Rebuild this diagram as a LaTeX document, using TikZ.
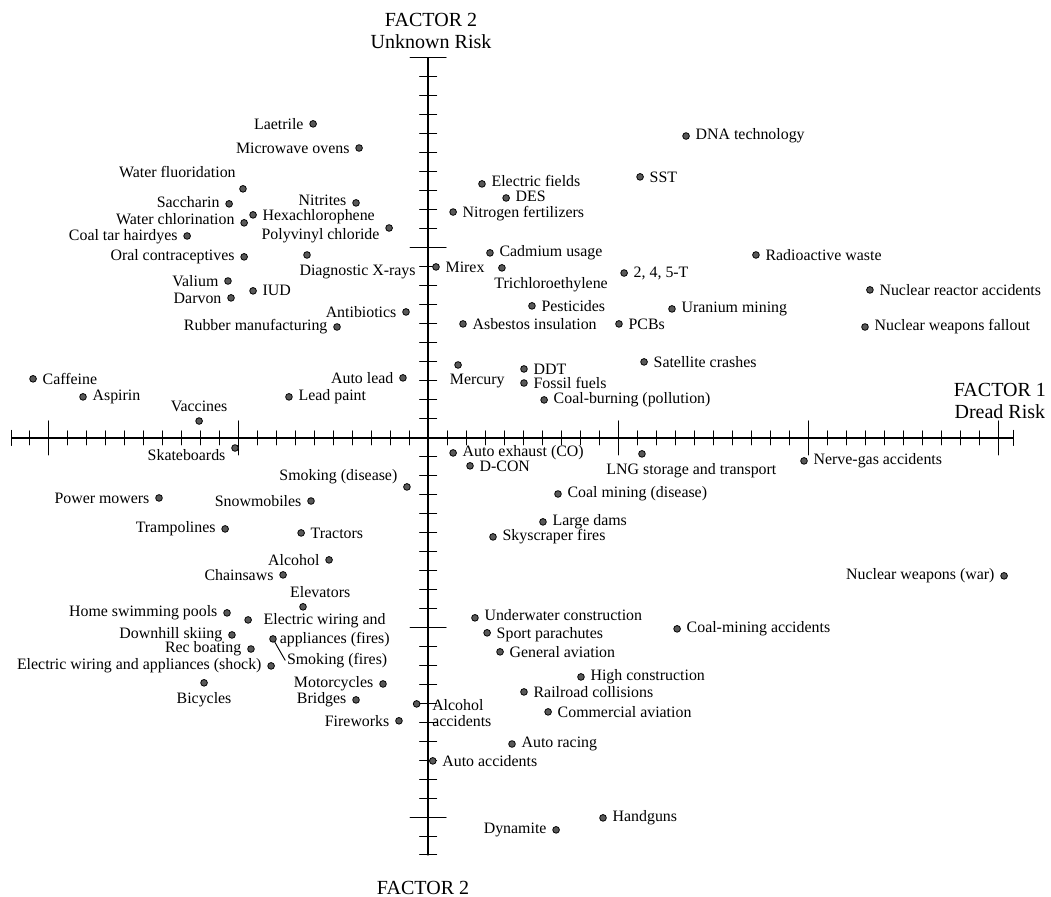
\documentclass[tikz,border=0pt]{standalone}
\usepackage{fontspec}
\setmainfont{Liberation Serif}
\usepackage{tikz}
\newcommand\hzfont{\fontsize{11.9}{14.2}\selectfont}
\newcommand\axfont{\fontsize{15}{16.5}\selectfont}

\begin{document}
\begin{tikzpicture}[line cap=round,line join=round,x=0.5cm,y=0.5cm,
    dot/.style={circle,draw=black,fill=black!65,inner sep=0pt,minimum size=5pt,line width=0.6pt},
    every label/.style={font=\hzfont,inner sep=1.2pt},
    label distance=3pt]
        \useasboundingbox (-22.53,-24.16) rectangle (32.79,23.05);
        % horizontal axis (factor 1)
        \draw[line width=1.1pt] (-21.9,0) -- (30.8,0);
        \foreach \x in {-21,...,30}
        \draw[shift={(\x,0)},line width=0.7pt] (0,0.37) -- (0,-0.37);
        \foreach \x in {-20,-10,10,20,30}
        \draw[shift={(\x,0)},line width=0.7pt] (0,0.9) -- (0,-0.9);
        \draw[line width=0.7pt] (-21.9,0.4) -- (-21.9,-0.4);
        \draw[line width=0.7pt] (30.8,0.4) -- (30.8,-0.4);
        % vertical axis (factor 2)
        \draw[line width=1.1pt] (0,-21.95) -- (0,20);
        \foreach \y in {-21,...,19}
        \draw[shift={(0,\y)},line width=0.7pt] (0.45,0) -- (-0.45,0);
        \foreach \y in {-20,-10,10,20}
        \draw[shift={(0,\y)},line width=0.7pt] (0.95,0) -- (-0.95,0);
        \draw[line width=0.7pt] (0.45,-21.95) -- (-0.45,-21.95);
        % axis titles
        \node[font=\axfont,align=center] (f2top) at (0.16,21.42) {FACTOR 2\\Unknown Risk};
        \node[font=\axfont,align=center] (f1) at (30.1,1.95) {FACTOR 1\\Dread Risk};
        \node[font=\axfont] (f2bot) at (-0.26,-23.68) {FACTOR 2};
        % upper left
        \node[dot,label=left:Laetrile] (laetrile) at (-6.05,16.53) {};
        \node[dot,label=left:Microwave ovens] (microwave) at (-3.63,15.26) {};
        \node[dot,label={[yshift=3pt]above left:Water fluoridation}] (fluor) at (-9.74,13.11) {};
        \node[dot,label={[yshift=1.5pt]left:Saccharin}] (saccharin) at (-10.47,12.32) {};
        \node[dot,label={[yshift=3pt]left:Water chlorination}] (chlorin) at (-9.68,11.32) {};
        \node[dot,label={[yshift=-1pt]right:Hexachlorophene}] (hexa) at (-9.21,11.74) {};
        \node[dot,label={[yshift=2pt]left:Nitrites}] (nitrites) at (-3.79,12.37) {};
        \node[dot,label={[yshift=-6pt]left:Polyvinyl chloride}] (pvc) at (-2.05,11.05) {};
        \node[dot,label={[yshift=-0.5pt]left:Coal tar hairdyes}] (coaltar) at (-12.68,10.63) {};
        \node[dot,label=left:Oral contraceptives] (oralc) at (-9.68,9.53) {};
        \node[dot,label={[anchor=north west,xshift=-7pt]below:Diagnostic X-rays}] (xrays) at (-6.37,9.63) {};
        \node[dot,label=left:Valium] (valium) at (-10.53,8.26) {};
        \node[dot,label=right:IUD] (iud) at (-9.21,7.74) {};
        \node[dot,label=left:Darvon] (darvon) at (-10.37,7.37) {};
        \node[dot,label=left:Antibiotics] (antibio) at (-1.16,6.63) {};
        \node[dot,label=left:Rubber manufacturing] (rubber) at (-4.79,5.84) {};
        % upper right
        \node[dot,label=right:DNA technology] (dna) at (13.58,15.89) {};
        \node[dot,label=right:SST] (sst) at (11.16,13.74) {};
        \node[dot,label={[yshift=2pt]right:Electric fields}] (efields) at (2.84,13.37) {};
        \node[dot,label={[yshift=1pt]right:DES}] (des) at (4.11,12.63) {};
        \node[dot,label={[yshift=-1.5pt]right:Nitrogen fertilizers}] (nitrogen) at (1.32,11.89) {};
        \node[dot,label=right:Cadmium usage] (cadmium) at (3.26,9.74) {};
        \node[dot,label=right:Radioactive waste] (radwaste) at (17.26,9.63) {};
        \node[dot,label=right:Mirex] (mirex) at (0.42,9.0) {};
        \node[dot,label={[anchor=north west,xshift=-7pt]below:Trichloroethylene}] (trichlor) at (3.89,8.95) {};
        \node[dot,label={right:2, 4, 5-T}] (twofourfive) at (10.32,8.68) {};
        \node[dot,label=right:Nuclear reactor accidents] (nra) at (23.26,7.79) {};
        \node[dot,label=right:Pesticides] (pesticides) at (5.47,6.95) {};
        \node[dot,label=right:Uranium mining] (uranium) at (12.84,6.79) {};
        \node[dot,label=right:Asbestos insulation] (asbestos) at (1.84,6.0) {};
        \node[dot,label=right:PCBs] (pcbs) at (10.05,6.0) {};
        \node[dot,label=right:Nuclear weapons fallout] (nwf) at (23.0,5.84) {};
        % near factor 1 axis
        \node[dot,label=right:Caffeine] (caffeine) at (-20.79,3.11) {};
        \node[dot,label=right:Aspirin] (aspirin) at (-18.16,2.16) {};
        \node[dot,label=above:Vaccines] (vaccines) at (-12.05,0.89) {};
        \node[dot,label=left:Auto lead] (autolead) at (-1.32,3.16) {};
        \node[dot,label=right:Lead paint] (leadpaint) at (-7.32,2.16) {};
        \node[dot,label={[anchor=north west,xshift=-7.5pt]below:Mercury}] (mercury) at (1.58,3.84) {};
        \node[dot,label=right:DDT] (ddt) at (5.05,3.63) {};
        \node[dot,label=right:Fossil fuels] (fossil) at (5.05,2.89) {};
        \node[dot,label=right:Satellite crashes] (satellite) at (11.37,4.0) {};
        \node[dot,label=right:Coal-burning (pollution)] (coalburn) at (6.11,2.0) {};
        \node[dot,label=right:Auto exhaust (CO)] (autoexh) at (1.32,-0.79) {};
        \node[dot,label=right:D-CON] (dcon) at (2.21,-1.47) {};
        \node[dot,label={[anchor=north west,xshift=-28pt]below:LNG storage and transport}] (lng) at (11.26,-0.84) {};
        \node[dot,label=right:Nerve-gas accidents] (nervegas) at (19.79,-1.21) {};
        \node[dot,label={[yshift=-5pt]left:Skateboards}] (skateb) at (-10.16,-0.53) {};
        \node[dot,label={[yshift=7.5pt]left:Smoking (disease)}] (smokdis) at (-1.11,-2.58) {};
        \node[dot,label=left:Power mowers] (mowers) at (-14.16,-3.16) {};
        \node[dot,label=left:Snowmobiles] (snowmob) at (-6.16,-3.32) {};
        \node[dot,label=left:Trampolines] (tramp) at (-10.68,-4.79) {};
        \node[dot,label=right:Tractors] (tractors) at (-6.68,-5.0) {};
        \node[dot,label=right:Coal mining (disease)] (coalmindis) at (6.84,-2.95) {};
        \node[dot,label=right:Large dams] (dams) at (6.05,-4.42) {};
        \node[dot,label=right:Skyscraper fires] (skyscr) at (3.42,-5.21) {};
        % lower left
        \node[dot,label=left:Alcohol] (alcohol) at (-5.21,-6.42) {};
        \node[dot,label=left:Chainsaws] (chainsaws) at (-7.63,-7.21) {};
        \node[dot,label={[anchor=south west,xshift=-11pt]above:Elevators}] (elevators) at (-6.58,-8.89) {};
        \node[dot,label=left:Home swimming pools] (pools) at (-10.58,-9.21) {};
        \node[dot,label={[anchor=north west,align=left,xshift=4.5pt,yshift=6pt]right:Electric wiring and\\\hspace*{12pt}appliances (fires)}] (ewfires) at (-9.47,-9.58) {};
        \node[dot,label={[name=smkfires-t,anchor=north west,xshift=5pt,yshift=-5pt]below right:Smoking (fires)}] (smkfires) at (-8.16,-10.58) {};
        \draw[line width=0.7pt] (smkfires) -- (smkfires-t.west);
        \node[dot,label=left:Downhill skiing] (skiing) at (-10.32,-10.37) {};
        \node[dot,label=left:Rec boating] (boating) at (-9.32,-11.11) {};
        \node[dot,label=left:Electric wiring and appliances (shock)] (ewshock) at (-8.26,-12.0) {};
        \node[dot,label=below:Bicycles] (bicycles) at (-11.79,-12.89) {};
        \node[dot,label=left:Motorcycles] (motorc) at (-2.37,-12.95) {};
        \node[dot,label=left:Bridges] (bridges) at (-3.79,-13.79) {};
        \node[dot,label={[anchor=north west,align=left,font=\fontsize{11.9}{12}\selectfont,xshift=4.5pt,yshift=5pt]right:Alcohol\\accidents}] (alcacc) at (-0.6,-14.0) {};
        \node[dot,label=left:Fireworks] (fireworks) at (-1.53,-14.89) {};
        % lower right
        \node[dot,label=left:Nuclear weapons (war)] (nwwar) at (30.32,-7.26) {};
        \node[dot,label={[yshift=2pt]right:Underwater construction}] (underwater) at (2.47,-9.47) {};
        \node[dot,label={[yshift=-1pt]right:Sport parachutes}] (sportpara) at (3.11,-10.26) {};
        \node[dot,label=right:Coal-mining accidents] (coalminacc) at (13.11,-10.05) {};
        \node[dot,label=right:General aviation] (genav) at (3.79,-11.26) {};
        \node[dot,label=right:High construction] (highcon) at (8.05,-12.58) {};
        \node[dot,label=right:Railroad collisions] (railroad) at (5.05,-13.37) {};
        \node[dot,label=right:Commercial aviation] (comav) at (6.32,-14.42) {};
        \node[dot,label=right:Auto racing] (autorace) at (4.42,-16.11) {};
        \node[dot,label=right:Auto accidents] (autoacc) at (0.25,-17.0) {};
        \node[dot,label=right:Handguns] (handguns) at (9.21,-20.0) {};
        \node[dot,label=left:Dynamite] (dynamite) at (6.74,-20.63) {};
      \end{tikzpicture}
\end{document}
